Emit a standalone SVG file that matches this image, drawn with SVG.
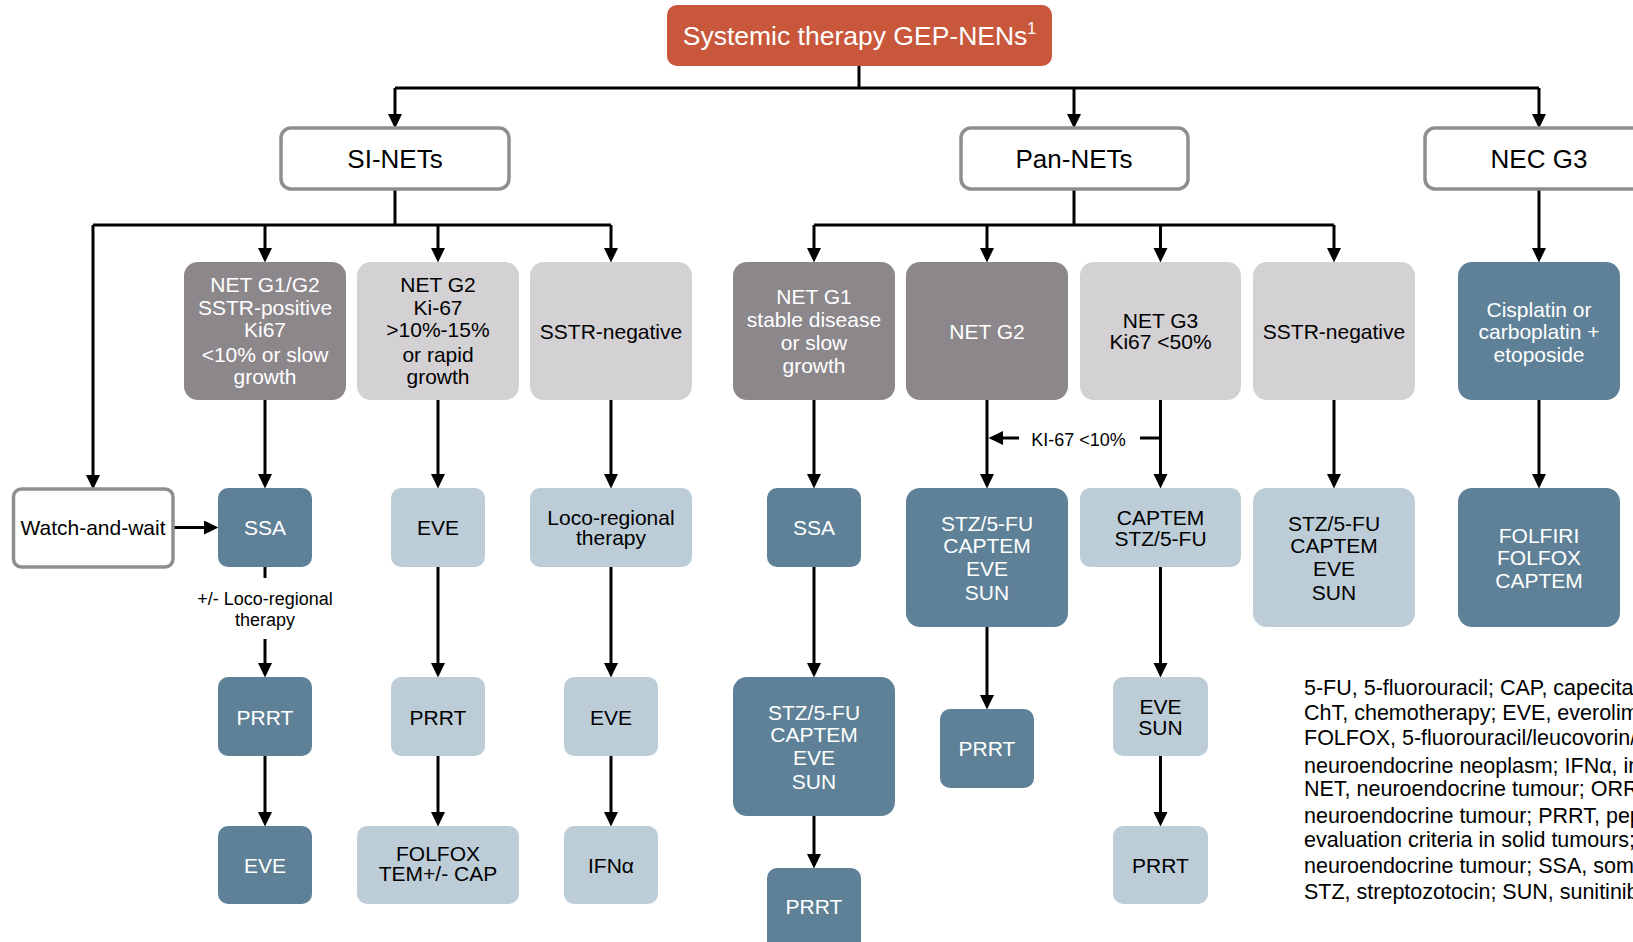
<svg xmlns="http://www.w3.org/2000/svg" width="1633" height="942" viewBox="0 0 1633 942">
<style>
text{font-family:"Liberation Sans",Arial,sans-serif;text-anchor:middle}
.t26{font-size:26px}
.t21{font-size:21px}
.t18{font-size:18px}
.w{fill:#ffffff}
.k{fill:#000000}
.title{fill:#C8573B}
.dg{fill:#8C878B}
.lg{fill:#D3D1D4}
.db{fill:#5E8197}
.lb{fill:#BCCDD8}
.wb{fill:#ffffff;stroke:#8E8E8E;stroke-width:3.5}
.ln{fill:none;stroke:#000;stroke-width:3}
.ar{marker-end:url(#ah)}
.fn{font-size:21.5px;text-anchor:start;fill:#000}
</style>
<defs>
<marker id="ah" markerUnits="userSpaceOnUse" markerWidth="15" markerHeight="15" refX="11" refY="7" orient="auto">
<path d="M0,0 L14.5,7 L0,14 z" fill="#000"/>
</marker>
</defs>
<rect width="1633" height="942" fill="#ffffff"/>

<g id="connectors">
<path class="ln" d="M859,66 V88 M395,88 H1539"/>
<path class="ln ar" d="M395,88 V125"/>
<path class="ln ar" d="M1074,88 V125"/>
<path class="ln ar" d="M1539,88 V125"/>
<path class="ln" d="M395,189 V225 M93,225 H611"/>
<path class="ln ar" d="M265,225 V259"/>
<path class="ln ar" d="M438,225 V259"/>
<path class="ln ar" d="M611,225 V259"/>
<path class="ln ar" d="M93,225 V486"/>
<path class="ln" d="M1074,189 V225 M814,225 H1334"/>
<path class="ln ar" d="M814,225 V259"/>
<path class="ln ar" d="M987,225 V259"/>
<path class="ln ar" d="M1160.5,225 V259"/>
<path class="ln ar" d="M1334,225 V259"/>
<path class="ln ar" d="M1539,189 V259"/>
<path class="ln ar" d="M265,400 V485"/>
<path class="ln ar" d="M438,400 V485"/>
<path class="ln ar" d="M611,400 V485"/>
<path class="ln ar" d="M814,400 V485"/>
<path class="ln ar" d="M987,400 V485"/>
<path class="ln ar" d="M1160.5,400 V485"/>
<path class="ln ar" d="M1334,400 V485"/>
<path class="ln ar" d="M1539,400 V485"/>
<path class="ln ar" d="M173,527.5 H215"/>
<path class="ln" d="M265,567 V578"/>
<path class="ln ar" d="M265,639 V674"/>
<path class="ln ar" d="M438,567 V674"/>
<path class="ln ar" d="M611,567 V674"/>
<path class="ln ar" d="M265,756 V823"/>
<path class="ln ar" d="M438,756 V823"/>
<path class="ln ar" d="M611,756 V823"/>
<path class="ln ar" d="M814,567 V674"/>
<path class="ln ar" d="M814,816 V865"/>
<path class="ln ar" d="M987,627 V706"/>
<path class="ln ar" d="M1160.5,567 V674"/>
<path class="ln ar" d="M1160.5,756 V823"/>
<path class="ln ar" d="M1019,438 H992"/>
<path class="ln" d="M1140,438 H1160.5"/>
<text class="t18 k" x="265" y="605">+/- Loco-regional</text>
<text class="t18 k" x="265" y="626">therapy</text>
<text class="t18 k" x="1078.5" y="445.5">KI-67 &lt;10%</text>
</g>

<g id="title">
<rect class="title" x="667" y="5" width="385" height="61" rx="10"/>
<text class="w" font-size="26.5" x="859.5" y="45">Systemic therapy GEP-NENs<tspan font-size="16" dy="-11">1</tspan></text>
</g>

<g id="si-nets">
<rect class="wb" x="281" y="128" width="228" height="61" rx="10"/>
<text class="t26 k" x="395" y="168">SI-NETs</text>
</g>
<g id="pan-nets">
<rect class="wb" x="961" y="128" width="227" height="61" rx="10"/>
<text class="t26 k" x="1074" y="168">Pan-NETs</text>
</g>
<g id="nec-g3">
<rect class="wb" x="1425" y="128" width="230" height="61" rx="10"/>
<text class="t26 k" x="1539" y="168">NEC G3</text>
</g>

<g id="si-net-g1g2">
<rect class="dg" x="184" y="262" width="162" height="138" rx="14"/>
<text class="t21 w" x="265" y="292">NET G1/G2</text>
<text class="t21 w" x="265" y="314.5">SSTR-positive</text>
<text class="t21 w" x="265" y="337">Ki67</text>
<text class="t21 w" x="265" y="362">&lt;10% or slow</text>
<text class="t21 w" x="265" y="384">growth</text>
</g>
<g id="si-net-g2">
<rect class="lg" x="357" y="262" width="162" height="138" rx="14"/>
<text class="t21 k" x="438" y="292">NET G2</text>
<text class="t21 k" x="438" y="314.5">Ki-67</text>
<text class="t21 k" x="438" y="337">&gt;10%-15%</text>
<text class="t21 k" x="438" y="362">or rapid</text>
<text class="t21 k" x="438" y="384">growth</text>
</g>
<g id="si-sstr-neg">
<rect class="lg" x="530" y="262" width="162" height="138" rx="14"/>
<text class="t21 k" x="611" y="339">SSTR-negative</text>
</g>
<g id="pan-net-g1">
<rect class="dg" x="733" y="262" width="162" height="138" rx="14"/>
<text class="t21 w" x="814" y="304">NET G1</text>
<text class="t21 w" x="814" y="326.5">stable disease</text>
<text class="t21 w" x="814" y="350">or slow</text>
<text class="t21 w" x="814" y="373">growth</text>
</g>
<g id="pan-net-g2">
<rect class="dg" x="906" y="262" width="162" height="138" rx="14"/>
<text class="t21 w" x="987" y="339">NET G2</text>
</g>
<g id="pan-net-g3">
<rect class="lg" x="1080" y="262" width="161" height="138" rx="14"/>
<text class="t21 k" x="1160.5" y="327.5">NET G3</text>
<text class="t21 k" x="1160.5" y="348.5">Ki67 &lt;50%</text>
</g>
<g id="pan-sstr-neg">
<rect class="lg" x="1253" y="262" width="162" height="138" rx="14"/>
<text class="t21 k" x="1334" y="339">SSTR-negative</text>
</g>
<g id="nec-cisplatin">
<rect class="db" x="1458" y="262" width="162" height="138" rx="14"/>
<text class="t21 w" x="1539" y="316.5">Cisplatin or</text>
<text class="t21 w" x="1539" y="339">carboplatin +</text>
<text class="t21 w" x="1539" y="361.5">etoposide</text>
</g>

<g id="watch-and-wait">
<rect class="wb" x="13.5" y="489" width="159.5" height="78" rx="8"/>
<text class="t21 k" x="93" y="535">Watch-and-wait</text>
</g>
<g id="si-ssa">
<rect class="db" x="218" y="488" width="94" height="79" rx="10"/>
<text class="t21 w" x="265" y="535">SSA</text>
</g>
<g id="si-eve-1">
<rect class="lb" x="391" y="488" width="94" height="79" rx="10"/>
<text class="t21 k" x="438" y="535">EVE</text>
</g>
<g id="si-loco">
<rect class="lb" x="530" y="488" width="162" height="79" rx="10"/>
<text class="t21 k" x="611" y="524.5">Loco-regional</text>
<text class="t21 k" x="611" y="545">therapy</text>
</g>
<g id="pan-ssa">
<rect class="db" x="767" y="488" width="94" height="79" rx="10"/>
<text class="t21 w" x="814" y="535">SSA</text>
</g>
<g id="pan-g2-tx">
<rect class="db" x="906" y="488" width="162" height="139" rx="14"/>
<text class="t21 w" x="987" y="530.5">STZ/5-FU</text>
<text class="t21 w" x="987" y="552.5">CAPTEM</text>
<text class="t21 w" x="987" y="576">EVE</text>
<text class="t21 w" x="987" y="599.5">SUN</text>
</g>
<g id="pan-g3-tx">
<rect class="lb" x="1080" y="488" width="161" height="79" rx="10"/>
<text class="t21 k" x="1160.5" y="524.5">CAPTEM</text>
<text class="t21 k" x="1160.5" y="545.5">STZ/5-FU</text>
</g>
<g id="pan-sstr-tx">
<rect class="lb" x="1253" y="488" width="162" height="139" rx="14"/>
<text class="t21 k" x="1334" y="530.5">STZ/5-FU</text>
<text class="t21 k" x="1334" y="552.5">CAPTEM</text>
<text class="t21 k" x="1334" y="576">EVE</text>
<text class="t21 k" x="1334" y="599.5">SUN</text>
</g>
<g id="nec-folfiri">
<rect class="db" x="1458" y="488" width="162" height="139" rx="14"/>
<text class="t21 w" x="1539" y="542.5">FOLFIRI</text>
<text class="t21 w" x="1539" y="565">FOLFOX</text>
<text class="t21 w" x="1539" y="587.5">CAPTEM</text>
</g>

<g id="si-prrt-1">
<rect class="db" x="218" y="677" width="94" height="79" rx="10"/>
<text class="t21 w" x="265" y="724.5">PRRT</text>
</g>
<g id="si-prrt-2">
<rect class="lb" x="391" y="677" width="94" height="79" rx="10"/>
<text class="t21 k" x="438" y="724.5">PRRT</text>
</g>
<g id="si-eve-3">
<rect class="lb" x="564" y="677" width="94" height="79" rx="10"/>
<text class="t21 k" x="611" y="724.5">EVE</text>
</g>
<g id="pan-g1-tx">
<rect class="db" x="733" y="677" width="162" height="139" rx="14"/>
<text class="t21 w" x="814" y="719.5">STZ/5-FU</text>
<text class="t21 w" x="814" y="741.5">CAPTEM</text>
<text class="t21 w" x="814" y="765">EVE</text>
<text class="t21 w" x="814" y="788.5">SUN</text>
</g>
<g id="pan-g2-prrt">
<rect class="db" x="940" y="709" width="94" height="79" rx="10"/>
<text class="t21 w" x="987" y="756">PRRT</text>
</g>
<g id="pan-g3-evesun">
<rect class="lb" x="1113" y="677" width="95" height="79" rx="10"/>
<text class="t21 k" x="1160.5" y="713.5">EVE</text>
<text class="t21 k" x="1160.5" y="734.5">SUN</text>
</g>

<g id="si-eve-4">
<rect class="db" x="218" y="826" width="94" height="78" rx="10"/>
<text class="t21 w" x="265" y="873">EVE</text>
</g>
<g id="si-folfox">
<rect class="lb" x="357" y="826" width="162" height="78" rx="10"/>
<text class="t21 k" x="438" y="860.5">FOLFOX</text>
<text class="t21 k" x="438" y="881">TEM+/- CAP</text>
</g>
<g id="si-ifna">
<rect class="lb" x="564" y="826" width="94" height="78" rx="10"/>
<text class="t21 k" x="611" y="873">IFNα</text>
</g>
<g id="pan-g1-prrt">
<rect class="db" x="767" y="868" width="94" height="90" rx="10"/>
<text class="t21 w" x="814" y="914">PRRT</text>
</g>
<g id="pan-g3-prrt">
<rect class="lb" x="1113" y="826" width="95" height="78" rx="10"/>
<text class="t21 k" x="1160.5" y="873">PRRT</text>
</g>

<g id="footnote">
<text class="fn" x="1304" y="695">5-FU, 5-fluorouracil; CAP, capecitabine;</text>
<text class="fn" x="1304" y="720">ChT, chemotherapy; EVE, everolimus;</text>
<text class="fn" x="1304" y="745">FOLFOX, 5-fluorouracil/leucovorin/</text>
<text class="fn" x="1304" y="772.5">neuroendocrine neoplasm; IFNα, interferon</text>
<text class="fn" x="1304" y="796">NET, neuroendocrine tumour; ORR</text>
<text class="fn" x="1304" y="822.5">neuroendocrine tumour; PRRT, peptide</text>
<text class="fn" x="1304" y="846.5">evaluation criteria in solid tumours;</text>
<text class="fn" x="1304" y="873">neuroendocrine tumour; SSA, somatostatin</text>
<text class="fn" x="1304" y="899">STZ, streptozotocin; SUN, sunitinib</text>
</g>
</svg>
